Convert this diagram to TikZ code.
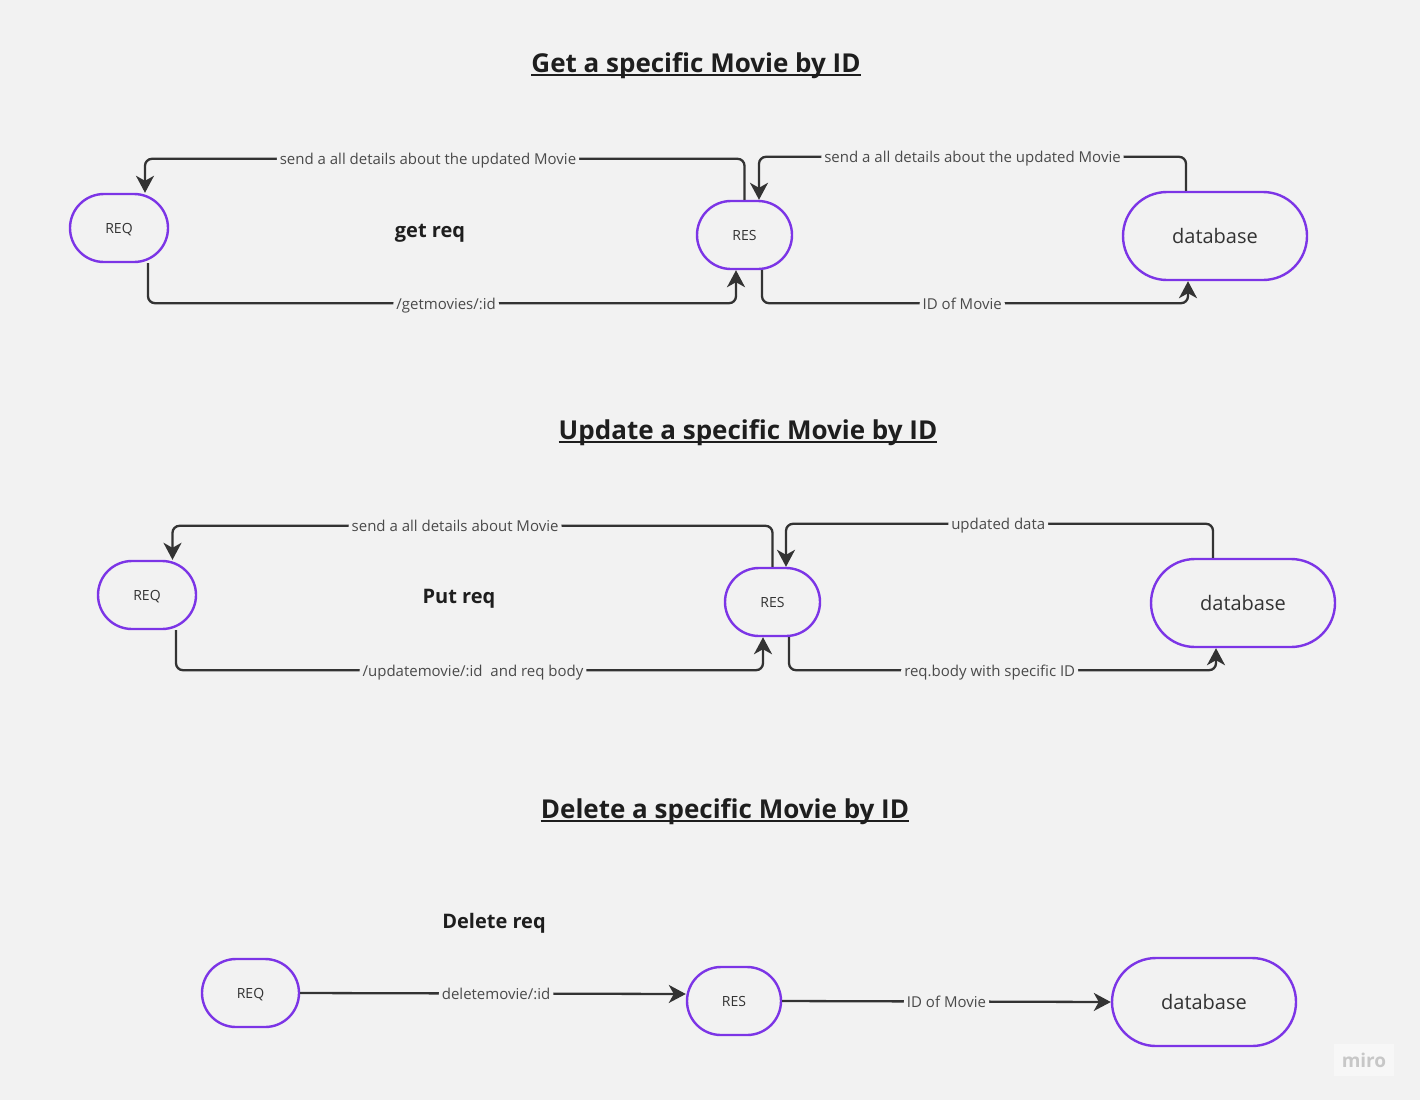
\documentclass[tikz,border=0pt]{standalone}
\usepackage{fontspec}
\setmainfont{Open Sans}
\usetikzlibrary{calc,arrows.meta}
\definecolor{bg}{HTML}{F2F2F2}
\definecolor{ln}{HTML}{333333}
\definecolor{lbltxt}{HTML}{4A4A4A}
\definecolor{purp}{HTML}{7C35E6}
\definecolor{ttl}{HTML}{1E1E1E}
\tikzset{
  pill/.style={draw=purp, line width=2.4pt, fill=bg, rounded corners=#1, inner sep=0pt, text=ln, text depth=0pt},
  small/.style={pill=34pt, minimum height=68pt, text height=10pt, font=\fontsize{14}{16}\selectfont},
  big/.style={pill=44pt, minimum width=184pt, minimum height=88pt, text height=14.5pt, font=\fontsize{20}{24}\selectfont},
  conn/.style={draw=ln, line width=2.3pt, rounded corners=7pt, -{Stealth[length=17pt,width=18pt,inset=5pt]}},
  lbl/.style={fill=bg, text=lbltxt, inner xsep=3pt, inner ysep=5pt, text height=8pt, text depth=0pt, yshift=-2pt, font=\fontsize{15}{18}\selectfont},
  title/.style={text=ttl, inner sep=0pt, font=\fontsize{26}{30}\selectfont\bfseries},
  ul/.style={draw=ttl, line width=2.2pt},
  sub/.style={text=ttl, inner sep=0pt, font=\fontsize{20}{24}\selectfont\bfseries},
}
\begin{document}
\begin{tikzpicture}[x=1pt,y=-1pt]
\fill[bg] (0,0) rectangle (1420,1100);
\useasboundingbox (0,0) rectangle (1420,1100);

% ---------- Section 1 ----------
\node[title, anchor=base] (t1) at (696,72) {Get a specific Movie by ID};
\draw[ul] ($(t1.base west)+(0,3)$) -- ($(t1.base east)+(0,3)$);
\node[sub, anchor=base] (s1) at (430,237) {get req};
\node[small, minimum width=98pt] (req1) at (119,228) {REQ};
\node[small, minimum width=95pt] (res1) at (744.5,235) {RES};
\node[big] (db1) at (1215,236) {database};

\draw[conn] (res1.north) -- ++(0,-41) -- node[lbl,pos=0.528]{send a all details about the updated Movie} ++(-599.5,0) -- ($(req1.north)+(26,0)$);
\draw[conn] ($(db1.north)+(-29,0)$) -- ++(0,-34) -- node[lbl,pos=0.5]{send a all details about the updated Movie} ++(-427,0) -- ($(res1.north)+(14.5,0)$);
\draw[conn] ($(req1.south)+(29,0)$) -- ++(0,40) -- node[lbl,pos=0.507]{/getmovies/:id} ++(588,0) -- ($(res1.south)+(-8.5,0)$);
\draw[conn] ($(res1.south)+(17.5,0)$) -- ++(0,33) -- node[lbl,pos=0.47]{ID of Movie} ++(426,0) -- ($(db1.south)+(-27,0)$);

% ---------- Section 2 ----------
\node[title, anchor=base] (t2) at (748,439) {Update a specific Movie by ID};
\draw[ul] ($(t2.base west)+(0,3)$) -- ($(t2.base east)+(0,3)$);
\node[sub, anchor=base] (s2) at (459,603) {Put req};
\node[small, minimum width=98pt] (req2) at (147,595) {REQ};
\node[small, minimum width=95pt] (res2) at (772.5,602) {RES};
\node[big] (db2) at (1243,603) {database};

\draw[conn] (res2.north) -- ++(0,-41) -- node[lbl,pos=0.529]{send a all details about Movie} ++(-600,0) -- ($(req2.north)+(25.5,0)$);
\draw[conn] ($(db2.north)+(-30,0)$) -- ++(0,-34) -- node[lbl,pos=0.503]{updated data\ } ++(-427,0) -- ($(res2.north)+(13.5,0)$);
\draw[conn] ($(req2.south)+(29,0)$) -- ++(0,40) -- node[lbl,pos=0.506]{/updatemovie/:id\ \ and req body} ++(587,0) -- ($(res2.south)+(-9.5,0)$);
\draw[conn] ($(res2.south)+(16.5,0)$) -- ++(0,33) -- node[lbl,pos=0.47]{req.body with specific ID} ++(427,0) -- ($(db2.south)+(-27,0)$);

% ---------- Section 3 ----------
\node[title, anchor=base] (t3) at (725,818) {Delete a specific Movie by ID};
\draw[ul] ($(t3.base west)+(0,3)$) -- ($(t3.base east)+(0,3)$);
\node[sub, anchor=base] (s3) at (494,928) {Delete req};
\node[small, minimum width=97pt] (req3) at (250.5,993) {REQ};
\node[small, minimum width=94pt] (res3) at (734,1001) {RES};
\node[big] (db3) at (1204,1002) {database};

\draw[conn] (req3.east) -- node[lbl,pos=0.508]{deletemovie/:id} ($(res3.west)+(0,-7)$);
\draw[conn] (res3.east) -- node[lbl,pos=0.5]{ID of Movie} (db3.west);

% ---------- watermark ----------
\node[fill=white!40!bg, text=black!22, minimum width=60pt, minimum height=32pt, inner sep=0pt,
      font=\fontsize{19}{22}\selectfont\bfseries] (miro) at (1364,1060) {miro};
\end{tikzpicture}
\end{document}
